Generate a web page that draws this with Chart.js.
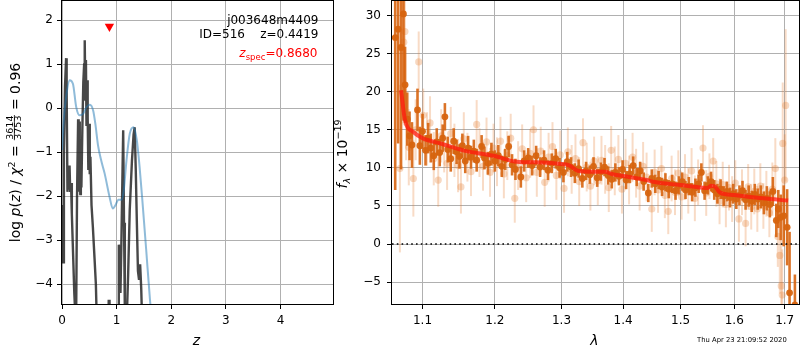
<!DOCTYPE html>
<html>
<head>
<meta charset="utf-8">
<script src="https://cdn.jsdelivr.net/npm/chart.js@4/dist/chart.umd.min.js"></script>
<style>
  html, body { margin: 0; padding: 0; background: #fff; }
  #wrap { position: relative; width: 800px; height: 350px; overflow: hidden; }
  #left { position: absolute; left: 0; top: 0; }
  #right { position: absolute; left: 325px; top: 0; }
</style>
</head>
<body>
<div id="wrap">
  <canvas id="left" width="340" height="350"></canvas>
  <canvas id="right" width="475" height="350"></canvas>
</div>
<script>
// ---- left panel: p(z) ----
var zGrid = [0.000,0.004,0.008,0.012,0.017,0.022,0.035,0.055,0.075,0.085,0.100,0.112,0.125,0.138,0.150,0.165,0.180,0.200,0.225,0.240,0.260,0.275,0.295,0.305,0.315,0.325,0.335,0.345,0.355,0.372,0.390,0.405,0.416,0.428,0.438,0.448,0.458,0.470,0.482,0.495,0.508,0.520,0.540,0.565,0.595,0.620,0.632,0.700,0.840,0.855,0.870,0.885,1.000,1.025,1.040,1.055,1.070,1.085,1.100,1.120,1.135,1.150,1.170,1.190,1.210,1.240,1.280,1.310,1.330,1.350,1.370,1.390,1.410,1.430,1.450,1.470];
var logPz = [-2.2,-3.5,-2.2,-3.5,-2.4,-3.5,-1.0,0.5,1.14,0.4,-1.9,-1.3,-1.85,-1.3,-1.9,-1.7,-2.4,-3.2,-4.2,-4.6,-4.6,-2.0,-0.25,-1.9,-0.3,-1.6,-1.95,-0.7,-1.8,-0.5,0.6,1.0,1.55,0.2,1.1,-0.4,0.64,-0.2,-1.4,-0.35,-1.5,-1.1,-2.2,-2.7,-3.4,-4.0,-4.6,-6,-6,-4.38,-4.38,-6,-6,-4.6,-3.1,-3.3,-4.2,-3.2,-2.0,-0.5,-2.6,-4.6,-5,-4.6,-3.8,-2.3,-1.2,-0.6,-0.43,-1.4,-2.6,-3.7,-3.9,-3.55,-4.1,-5];

var zChi = [0,0.03,0.08,0.14,0.20,0.26,0.32,0.39,0.45,0.51,0.57,0.61,0.66,0.72,0.78,0.87,0.93,0.98,1.03,1.09,1.13,1.18,1.24,1.31,1.37,1.42,1.48,1.54,1.61,1.66];
var chiScaled = [-0.95,-0.3,0.3,0.64,0.56,0.03,-0.16,-0.12,0.03,0.08,-0.05,-0.35,-0.85,-1.2,-1.48,-2.01,-2.28,-2.2,-2.08,-2.08,-1.87,-1.19,-0.58,-0.43,-0.73,-1.33,-2.24,-3.2,-4.35,-5.0];

var zSpec = 0.868, zSpecMark = 1.86;
var zTicks = [0, 1, 2, 3, 4];
var pTicks = [-4, -3, -2, -1, 0, 1, 2];

// ---- right panel: spectrum ----
var lamA = [1.0645,1.0682,1.0720,1.0751,1.0772,1.0800,1.0830,1.0862,1.0934,1.0965,1.1000,1.1040,1.1075,1.1110,1.1150,1.1190,1.1230,1.1270,1.1300,1.1340,1.1380,1.1420,1.1460,1.1500,1.1540,1.1580,1.1620,1.1660,1.1700,1.1740,1.1810,1.1850,1.1900,1.1950,1.2000,1.2050,1.2100,1.2150,1.2200,1.2250,1.2300,1.2380,1.2430,1.2490,1.2550,1.2610,1.2670,1.2730,1.2790,1.2850,1.2910,1.2970,1.3030,1.3090,1.3150,1.3210,1.3270,1.3330,1.3390,1.3450,1.3510,1.3570,1.3630,1.3690,1.3750,1.3810,1.3870,1.3930,1.3990,1.4050,1.4110,1.4170,1.4230,1.4290,1.4350,1.4430,1.4490,1.4550,1.4610,1.4670,1.4730,1.4790,1.4850,1.4910,1.4970,1.5030,1.5090,1.5150,1.5210,1.5270,1.5330,1.5380,1.5440,1.5500,1.5560,1.5620,1.5680,1.5740,1.5800,1.5860,1.5920,1.5980,1.6040,1.6100,1.6160,1.6220,1.6280,1.6340,1.6400,1.6460,1.6520,1.6580,1.6640,1.6700,1.6760,1.6830,1.6870,1.6920,1.6980,1.7050,1.7100,1.7210];
var fluxA = [27.1,28.2,25.8,30.2,20.9,16.4,14.2,13.0,17.6,12.9,14.8,12.3,13.9,12.6,11.6,13.4,12.0,13.9,16.7,12.4,11.2,13.5,12.1,11.5,12.9,10.9,12.6,11.4,12.2,11.0,12.8,11.3,10.6,11.8,10.9,11.6,10.2,11.1,12.8,10.4,9.8,8.8,10.9,11.3,10.3,11.6,10.1,11.0,9.7,10.6,11.2,10.0,9.4,10.8,10.1,9.3,9.9,8.6,9.6,9.1,10.2,8.7,9.5,10.1,9.0,8.5,9.4,8.9,9.8,8.4,9.2,10.3,8.8,9.6,8.2,6.7,8.6,7.9,8.4,7.5,8.1,7.2,7.9,7.0,7.7,8.2,7.1,7.6,6.8,7.4,7.9,9.4,7.0,7.7,8.2,7.1,6.6,7.2,6.3,6.9,6.1,6.6,5.9,6.4,7.0,5.8,6.3,5.6,6.5,5.9,6.2,5.4,6.0,5.2,6.9,3.1,4.6,3.5,3.7,2.2,-6.4,-8];
var errA = [20,15,16,14,5,3.5,3.2,3.0,2.8,2.5,2.3,2.0,2.0,1.9,1.9,1.8,1.8,1.8,1.8,1.7,1.7,1.7,1.6,1.6,1.6,1.6,1.6,1.5,1.5,1.5,1.5,1.5,1.5,1.5,1.4,1.4,1.4,1.4,1.4,1.4,1.4,1.4,1.4,1.3,1.3,1.3,1.3,1.3,1.3,1.3,1.3,1.3,1.3,1.3,1.3,1.3,1.2,1.2,1.2,1.2,1.2,1.2,1.2,1.2,1.2,1.2,1.2,1.2,1.2,1.2,1.2,1.2,1.2,1.2,1.2,1.2,1.2,1.2,1.2,1.2,1.2,1.2,1.2,1.2,1.2,1.2,1.2,1.2,1.2,1.2,1.2,1.2,1.2,1.2,1.3,1.3,1.3,1.3,1.3,1.3,1.3,1.3,1.3,1.3,1.3,1.3,1.4,1.4,1.4,1.4,1.5,1.5,1.6,1.7,1.9,2.2,2.5,3,4,5,8,4];

var lamB = [1.0705,1.0755,1.0770,1.0785,1.0820,1.0880,1.0910,1.0950,1.1010,1.1060,1.1100,1.1150,1.1210,1.1250,1.1290,1.1330,1.1380,1.1430,1.1480,1.1520,1.1560,1.1610,1.1660,1.1740,1.1780,1.1830,1.1880,1.1930,1.1980,1.2030,1.2080,1.2130,1.2180,1.2230,1.2290,1.2340,1.2400,1.2460,1.2520,1.2570,1.2620,1.2680,1.2740,1.2800,1.2860,1.2920,1.2980,1.3040,1.3100,1.3160,1.3220,1.3280,1.3340,1.3400,1.3460,1.3520,1.3580,1.3640,1.3700,1.3760,1.3800,1.3860,1.3920,1.3980,1.4040,1.4100,1.4160,1.4220,1.4280,1.4340,1.4400,1.4490,1.4540,1.4600,1.4660,1.4720,1.4780,1.4840,1.4900,1.4960,1.5020,1.5080,1.5140,1.5200,1.5260,1.5320,1.5410,1.5470,1.5530,1.5600,1.5660,1.5720,1.5780,1.5840,1.5900,1.5960,1.6020,1.6090,1.6150,1.6220,1.6270,1.6330,1.6390,1.6450,1.6510,1.6570,1.6630,1.6690,1.6750,1.6810,1.6860,1.6900,1.6930,1.6950,1.6960,1.7000,1.7020];
var fluxB = [9.9,26.5,27.9,16.0,12.7,8.6,15.0,23.9,16.9,13.8,15.9,11.2,8.4,14.2,12.9,10.6,14.5,12.3,10.3,7.5,13.8,11.4,9.5,15.7,12.0,10.2,13.4,9.4,12.6,10.8,13.5,9.2,11.6,13.9,6.0,10.3,12.5,8.7,11.9,15.0,9.4,12.2,8.1,11.4,12.8,9.0,11.7,7.3,12.1,9.8,11.2,8.2,13.3,10.1,7.6,10.9,8.3,11.0,9.8,7.4,12.3,9.6,11.1,7.2,10.6,8.4,11.4,9.3,7.6,10.2,8.8,4.6,9.4,7.1,9.9,6.4,4.3,8.6,6.8,9.3,6.2,8.8,7.0,9.6,6.0,8.1,12.6,6.7,8.9,10.9,7.9,5.6,7.8,5.2,7.4,5.9,8.0,3.3,6.8,2.7,7.5,4.9,6.9,4.6,7.6,5.0,6.6,4.1,7.2,9.9,1.0,-1.5,-5.5,-6.7,13.2,8.4,18.2];
var errB = [11,8,9,5,5,5,4,4,3.5,3.5,3.5,3.5,3.5,3.5,3.5,3.5,3.5,3.5,3.5,3.5,3.5,3.2,3.2,3.2,3.2,3.2,3.2,3.2,3.2,3.2,3.2,3.2,3.2,3.2,3.2,3.2,3.2,3.2,3.2,3.2,3.2,3.2,3.2,3.2,3.2,3.2,3.2,3.2,3.2,3.2,3.2,3.2,3.2,3.2,3.2,3.2,3.2,3.2,3.2,3.2,3.2,3.2,3.2,3.2,3.2,3.2,3.2,3.2,3.2,3.2,3.2,3,3,3,3,3,3,3,3,3,3,3,3,3,3,3,3,3,3,3,3,3,3,3,3,3,3,3,3,3,3,3,3,3,3,3,3,3.2,3.5,4,4,5,6,6,8,6,10];

var lamModel = [1.072,1.077,1.088,1.100,1.124,1.155,1.200,1.232,1.272,1.300,1.311,1.327,1.351,1.370,1.381,1.400,1.440,1.451,1.500,1.541,1.549,1.556,1.562,1.573,1.600,1.657,1.707];
var fluxModel = [20.2,16.3,14.7,13.9,13.2,12.3,11.55,10.8,10.7,10.5,10.37,9.6,9.5,9.5,9.19,8.92,8.4,8.18,7.74,7.39,7.35,7.65,7.6,6.75,6.43,6.0,5.7];

var lamTicks = [1.1, 1.2, 1.3, 1.4, 1.5, 1.6, 1.7];
var fTicks = [-5, 0, 5, 10, 15, 20, 25, 30];

Chart.defaults.font.family = 'DejaVu Sans';
Chart.defaults.font.size = 12;
Chart.defaults.color = '#000';
Chart.defaults.animation = false;

function pts(xs, ys) {
  return xs.map(function (x, i) { return { x: x, y: ys[i] }; });
}

function setTicks(list) {
  return function (scale) { scale.ticks = list.map(function (v) { return { value: v }; }); };
}

// draws a run of text pieces one after another, centred on (0,0) of the current transform
function richWidth(ctx, parts) {
  var w = 0;
  parts.forEach(function (p) {
    ctx.font = p.font;
    if (p.frac) {
      p.w = Math.max(ctx.measureText(p.frac[0]).width, ctx.measureText(p.frac[1]).width) + 2;
    } else {
      p.w = ctx.measureText(p.t).width;
    }
    w += p.w;
  });
  return w;
}

function drawRich(ctx, parts, x, y, rot, color) {
  ctx.save();
  ctx.translate(x, y);
  if (rot) ctx.rotate(rot);
  var w = richWidth(ctx, parts);
  var cx = -w / 2;
  ctx.fillStyle = color || '#000';
  ctx.strokeStyle = color || '#000';
  ctx.textBaseline = 'alphabetic';
  ctx.textAlign = 'left';
  parts.forEach(function (p) {
    ctx.font = p.font;
    if (p.frac) {
      ctx.textAlign = 'center';
      ctx.fillText(p.frac[0], cx + p.w / 2, -6.7);
      ctx.fillText(p.frac[1], cx + p.w / 2, 1.2);
      ctx.textAlign = 'left';
      ctx.lineWidth = 0.8;
      ctx.beginPath();
      ctx.moveTo(cx + 0.5, -5.6);
      ctx.lineTo(cx + p.w - 0.5, -5.6);
      ctx.stroke();
    } else {
      ctx.fillText(p.t, cx, p.dy || 0);
    }
    cx += p.w;
  });
  ctx.restore();
}

var frame = {
  id: 'frame',
  afterDraw: function (chart) {
    var a = chart.chartArea, ctx = chart.ctx;
    ctx.save();
    ctx.strokeStyle = '#000';
    ctx.lineWidth = 1;
    ctx.strokeRect(Math.round(a.left) - 0.5, Math.round(a.top) - 0.5, Math.round(a.right - a.left) + 1, Math.round(a.bottom - a.top) + 1);
    ctx.restore();
  }
};

var errorBars = {
  id: 'errorBars',
  beforeDatasetDraw: function (chart, args) {
    var ds = chart.data.datasets[args.index];
    if (!ds.err) return;
    var ctx = chart.ctx, a = chart.chartArea, xs = chart.scales.x, ys = chart.scales.y;
    ctx.save();
    ctx.beginPath();
    ctx.rect(a.left, a.top, a.right - a.left, a.bottom - a.top);
    ctx.clip();
    ctx.strokeStyle = ds.errColor;
    ctx.lineWidth = ds.errWidth;
    ds.data.forEach(function (p, i) {
      var px = xs.getPixelForValue(p.x);
      ctx.beginPath();
      ctx.moveTo(px, ys.getPixelForValue(p.y - ds.err[i]));
      ctx.lineTo(px, ys.getPixelForValue(p.y + ds.err[i]));
      ctx.stroke();
    });
    ctx.restore();
  }
};

function axisStyle(tickList, min, max, pad, size, isX) {
  return {
    type: 'linear',
    min: min,
    max: max,
    afterBuildTicks: setTicks(tickList),
    afterFit: function (s) {
      // fixed axis box, and no extra room for labels hanging past the ends
      if (isX) s.height = size; else s.width = size;
      s.paddingTop = 0; s.paddingBottom = 0; s.paddingLeft = 0; s.paddingRight = 0;
    },
    grid: { color: '#b0b0b0', lineWidth: 1, tickColor: '#000', tickLength: 5 },
    border: { display: false },
    ticks: {
      padding: pad,
      maxRotation: 0,
      autoSkip: false,
      callback: function (v) { return String(v).replace('-', '\u2212'); }
    }
  };
}

var leftTexts = {
  id: 'leftTexts',
  afterDraw: function (chart) {
    var ctx = chart.ctx;
    ctx.save();
    ctx.textAlign = 'right';
    ctx.textBaseline = 'alphabetic';
    ctx.font = '12px DejaVu Sans';
    ctx.fillStyle = '#000';
    ctx.fillText('j003648m4409', 318.5, 23.5);
    ctx.fillText('ID=516    z=0.4419', 318.5, 38);
    ctx.restore();
    drawRich(ctx, [
      { t: 'z', font: 'italic 12px DejaVu Sans' },
      { t: 'spec', font: '8.5px DejaVu Sans', dy: 2.6 },
      { t: '=0.8680', font: '12px DejaVu Sans' }
    ], 278.4, 57, 0, '#ff0000');
    // x label
    drawRich(ctx, [{ t: 'z', font: 'italic 14px DejaVu Sans' }], 196.5, 344.5, 0);
    // y label with the chi2 fraction
    var n = '14px DejaVu Sans', it = 'italic 14px DejaVu Sans';
    drawRich(ctx, [
      { t: 'log ', font: n }, { t: 'p', font: it }, { t: '(', font: n }, { t: 'z', font: it },
      { t: ') / ', font: n }, { t: '\u03c7', font: it }, { t: '2', font: '9.5px DejaVu Sans', dy: -5.5 },
      { t: ' = ', font: n }, { frac: ['3614', '3753'], font: '9.5px DejaVu Sans' }, { t: ' = 0.96', font: n }
    ], 20, 152.5, -Math.PI / 2);
  }
};

// lower "order" is painted later, i.e. on top
new Chart(document.getElementById('left'), {
  type: 'scatter',
  data: {
    datasets: [
      {
        data: pts(zGrid, logPz), showLine: true, pointRadius: 0, order: 3,
        borderColor: 'rgba(30,30,30,0.82)', borderWidth: 2.4, tension: 0, clip: 0
      },
      {
        data: pts(zChi, chiScaled), showLine: true, pointRadius: 0, order: 2,
        borderColor: 'rgba(31,119,180,0.5)', borderWidth: 2, cubicInterpolationMode: 'monotone', clip: 0
      },
      {
        data: [{ x: zSpec, y: zSpecMark }], pointStyle: 'triangle', rotation: 180, order: 1,
        pointRadius: 5.4, backgroundColor: '#ff0000', borderColor: '#ff0000', borderWidth: 0
      }
    ]
  },
  options: {
    responsive: false,
    layout: { autoPadding: false, padding: { left: 0, right: 7, top: 1, bottom: 0 } },
    plugins: { legend: { display: false }, tooltip: { enabled: false } },
    scales: {
      x: axisStyle(zTicks, 0, 4.96, 5, 46, true),
      y: axisStyle(pTicks, -4.45, 2.44, 4, 62, false)
    }
  },
  plugins: [frame, leftTexts]
});

var rightTexts = {
  id: 'rightTexts',
  afterDraw: function (chart) {
    var ctx = chart.ctx;
    drawRich(ctx, [{ t: '\u03bb', font: 'italic 14px DejaVu Sans' }], 269.5, 344.5, 0);
    drawRich(ctx, [
      { t: 'f', font: 'italic 14px DejaVu Sans' },
      { t: '\u03bb', font: 'italic 9.5px DejaVu Sans', dy: 3 },
      { t: ' \u00d7 10', font: '14px DejaVu Sans' },
      { t: '\u221219', font: '9.5px DejaVu Sans', dy: -6 }
    ], 22, 154, -Math.PI / 2);
    ctx.save();
    ctx.font = '6.8px DejaVu Sans';
    ctx.fillStyle = '#000';
    ctx.textAlign = 'right';
    ctx.fillText('Thu Apr 23 21:09:52 2020', 461.7, 341.7);
    ctx.restore();
  }
};

var xRight = axisStyle(lamTicks, 1.0604, 1.7295, 5, 46, true);
xRight.type = 'logarithmic';
xRight.ticks.callback = function (v) { return Number(v).toFixed(1); };

new Chart(document.getElementById('right'), {
  type: 'scatter',
  data: {
    datasets: [
      {
        data: pts(lamB, fluxB), err: errB, errColor: 'rgba(230,125,50,0.28)', errWidth: 2, order: 4,
        pointRadius: 3.6, backgroundColor: 'rgba(230,125,50,0.3)', borderWidth: 0, clip: 0
      },
      {
        data: pts(lamA, fluxA), err: errA, errColor: 'rgba(215,100,15,0.9)', errWidth: 2.6, order: 3,
        pointRadius: 3.4, backgroundColor: 'rgba(215,100,15,0.95)', borderWidth: 0, clip: 0
      },
      {
        data: pts(lamModel, fluxModel), showLine: true, pointRadius: 0, order: 2,
        borderColor: 'rgba(255,25,15,0.75)', borderWidth: 4, cubicInterpolationMode: 'monotone', clip: 0
      },
      {
        data: [{ x: 1.0604, y: 0 }, { x: 1.7295, y: 0 }], showLine: true, pointRadius: 0, order: 1,
        borderColor: '#000', borderWidth: 1.6, borderDash: [1.6, 3.2], clip: 0
      }
    ]
  },
  options: {
    responsive: false,
    layout: { autoPadding: false, padding: { left: 0, right: 1, top: 1, bottom: 0 } },
    plugins: { legend: { display: false }, tooltip: { enabled: false } },
    scales: {
      x: xRight,
      y: axisStyle(fTicks, -7.87, 31.9, 6, 67, false)
    }
  },
  plugins: [errorBars, frame, rightTexts]
});
</script>
</body>
</html>
